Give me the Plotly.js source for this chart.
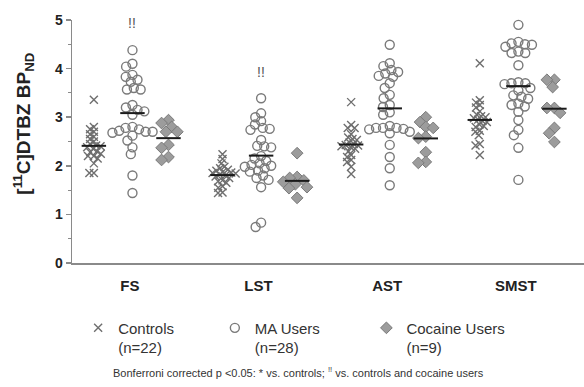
<!DOCTYPE html>
<html>
<head>
<meta charset="utf-8">
<script src="https://cdn.plot.ly/plotly-3.0.1.min.js"></script>
<style>html,body{margin:0;padding:0;background:#fff}#chart{width:584px;height:387px}</style>
</head>
<body>
<div id="chart"></div>
<script>
// ---- data ----
const categories = ['FS', 'LST', 'AST', 'SMST'];
const groupNames = ['Controls<br>(n=22)', 'MA Users<br>(n=28)', 'Cocaine Users<br>(n=9)'];
const yTitle = '[<sup>11</sup>C]DTBZ BP<sub>ND</sub>';

const controlsFS   = [3.36, 2.80, 2.75, 2.70, 2.65, 2.60, 2.55, 2.50, 2.45, 2.42, 2.40, 2.38, 2.35, 2.30, 2.28, 2.25, 2.20, 2.20, 2.15, 2.05, 1.85, 1.85];
const controlsLST  = [2.24, 2.14, 2.05, 1.98, 1.95, 1.92, 1.90, 1.88, 1.86, 1.85, 1.84, 1.82, 1.80, 1.78, 1.75, 1.70, 1.68, 1.65, 1.58, 1.55, 1.45, 1.44];
const controlsAST  = [3.31, 2.84, 2.78, 2.78, 2.65, 2.58, 2.55, 2.53, 2.48, 2.45, 2.43, 2.42, 2.40, 2.38, 2.35, 2.30, 2.22, 2.18, 2.12, 2.08, 1.98, 1.83];
const controlsSMST = [4.11, 3.35, 3.30, 3.25, 3.20, 3.12, 3.05, 3.02, 3.00, 2.98, 2.95, 2.92, 2.90, 2.85, 2.82, 2.80, 2.72, 2.70, 2.63, 2.45, 2.42, 2.22];

const maFS   = [4.38, 4.10, 4.04, 3.87, 3.83, 3.77, 3.73, 3.60, 3.57, 3.57, 3.25, 3.20, 3.15, 3.12, 3.05, 2.80, 2.78, 2.75, 2.72, 2.70, 2.70, 2.68, 2.62, 2.52, 2.38, 2.24, 1.80, 1.44];
const maLST  = [3.39, 3.08, 3.00, 2.92, 2.85, 2.78, 2.76, 2.74, 2.53, 2.41, 2.40, 2.38, 2.20, 2.15, 2.10, 2.05, 2.02, 2.00, 1.98, 1.95, 1.90, 1.88, 1.80, 1.75, 1.71, 1.56, 0.83, 0.74];
const maAST  = [4.49, 4.11, 4.05, 3.97, 3.93, 3.90, 3.85, 3.83, 3.70, 3.60, 3.46, 3.39, 3.25, 3.21, 3.10, 3.05, 2.82, 2.78, 2.76, 2.78, 2.78, 2.75, 2.70, 2.67, 2.43, 2.18, 1.95, 1.60];
const maSMST = [4.90, 4.55, 4.52, 4.50, 4.49, 4.45, 4.35, 4.32, 4.32, 4.07, 3.72, 3.70, 3.70, 3.68, 3.60, 3.55, 3.45, 3.42, 3.38, 3.28, 3.25, 3.22, 3.11, 2.94, 2.74, 2.63, 2.37, 1.71];

const cocaineFS   = [2.94, 2.88, 2.80, 2.70, 2.70, 2.43, 2.37, 2.18, 2.12];
const cocaineLST  = [2.26, 1.77, 1.75, 1.70, 1.67, 1.62, 1.56, 1.54, 1.34];
const cocaineAST  = [3.00, 2.90, 2.80, 2.78, 2.60, 2.57, 2.28, 2.08, 2.06];
const cocaineSMST = [3.77, 3.77, 3.62, 3.19, 3.19, 3.09, 2.78, 2.67, 2.49];

const controls = [controlsFS, controlsLST, controlsAST, controlsSMST];
const maUsers = [maFS, maLST, maAST, maSMST];
const cocaine = [cocaineFS, cocaineLST, cocaineAST, cocaineSMST];
const significantMA = [true, true, true, true];

// ---- geometry helpers ----
const X_RANGE = [-0.45, 3.53];
const Y_RANGE = [0, 5];
const PLOT_W = 512, PLOT_H = 243;
const PXX = PLOT_W / (X_RANGE[1] - X_RANGE[0]);
const PXY = PLOT_H / (Y_RANGE[1] - Y_RANGE[0]);

function swarm(vals, diam) {
  const order = vals.map((v, i) => i).sort((a, b) => vals[b] - vals[a]);
  const placed = [];
  const out = new Array(vals.length).fill(0);
  for (const i of order) {
    const y = vals[i] * PXY;
    const cands = [0];
    for (const p of placed) {
      const dy = Math.abs(p.y - y);
      if (dy < diam) {
        const dx = Math.sqrt(diam * diam - dy * dy);
        cands.push(p.x + dx, p.x - dx);
      }
    }
    cands.sort((a, b) => Math.abs(a) - Math.abs(b) || a - b);
    let chosen = 0;
    for (const c of cands) {
      if (placed.every(p => (p.x - c) ** 2 + (p.y - y) ** 2 >= diam * diam - 1e-6)) { chosen = c; break; }
    }
    placed.push({x: chosen, y});
    out[i] = chosen / PXX;
  }
  return out;
}
const mean = a => a.reduce((s, v) => s + v, 0) / a.length;

const FONT = 'Liberation Sans, Arial, sans-serif';
const groups = [
  {data: controls, offset: -0.28, diam: 4.5,
   marker: {symbol: 'x-thin', size: 8, color: '#6e6e6e', line: {color: '#6e6e6e', width: 1.4}}},
  {data: maUsers, offset: 0.02, diam: 7,
   marker: {symbol: 'circle-open', size: 9, color: '#7a7a7a', line: {width: 1.4}}},
  {data: cocaine, offset: 0.30, diam: 7.5,
   marker: {symbol: 'diamond', size: 9, color: '#9c9c9c', line: {color: '#7a7a7a', width: 1}}}
];
const legendIds = ['legend', 'legend2', 'legend3'];

const traces = [];
groups.forEach((g, gi) => {
  const xs = [], ys = [];
  g.data.forEach((vals, ci) => {
    const offs = swarm(vals, g.diam);
    vals.forEach((v, k) => { xs.push(ci + g.offset + offs[k]); ys.push(v); });
  });
  traces.push({
    type: 'scatter', mode: 'markers', x: xs, y: ys, name: groupNames[gi],
    marker: g.marker, legend: legendIds[gi], cliponaxis: false, hoverinfo: 'y'
  });
});
// mean lines
groups.forEach((g) => {
  g.data.forEach((vals, ci) => {
    const m = mean(vals), c = ci + g.offset;
    traces.push({
      type: 'scatter', mode: 'lines', x: [c - 0.095, c + 0.095], y: [m, m],
      line: {color: '#1a1a1a', width: 2}, showlegend: false, hoverinfo: 'skip'
    });
  });
});

const annotations = [];
maUsers.forEach((vals, ci) => {
  if (significantMA[ci]) {
    annotations.push({
      x: ci + groups[1].offset, y: Math.max(...vals) + 0.55, xref: 'x', yref: 'y',
      text: '!!', showarrow: false, yanchor: 'middle',
      font: {family: FONT, size: 14, color: '#555'}
    });
  }
});
annotations.push({
  xref: 'paper', yref: 'paper', x: 0.443, y: -0.449, xanchor: 'center', yanchor: 'middle',
  showarrow: false,
  text: 'Bonferroni corrected p <0.05: * vs. controls; <sup>!!</sup> vs. controls and cocaine users',
  font: {family: FONT, size: 11, color: '#333'}
});
annotations.push({
  xref: 'paper', yref: 'paper', x: -0.095, y: 0.575, xanchor: 'center', yanchor: 'middle',
  textangle: -90, showarrow: false, text: yTitle,
  font: {family: FONT, size: 19, color: '#222', weight: 'bold'}
});

const legendBase = {
  y: -0.2, yanchor: 'top', xanchor: 'left', orientation: 'v', valign: 'top',
  bgcolor: 'rgba(0,0,0,0)', borderwidth: 0, itemwidth: 30,
  font: {family: FONT, size: 15, color: '#333'}
};

const layout = {
  width: 584, height: 387,
  margin: {l: 72, r: 0, t: 20, b: 124},
  paper_bgcolor: '#fff', plot_bgcolor: '#fff',
  showlegend: true,
  legend: Object.assign({}, legendBase, {x: 0.012}),
  legend2: Object.assign({}, legendBase, {x: 0.279}),
  legend3: Object.assign({}, legendBase, {x: 0.575}),
  xaxis: {
    range: X_RANGE, tickvals: [0, 1, 2, 3], ticktext: categories,
    showline: true, linecolor: '#8a8a8a', linewidth: 1.5, ticks: '',
    showgrid: false, zeroline: false, ticklabelstandoff: 8,
    tickfont: {family: FONT, size: 15, color: '#222', weight: 'bold'}
  },
  yaxis: {
    range: Y_RANGE, tickvals: [0, 1, 2, 3, 4, 5],
    showline: true, linecolor: '#8a8a8a', linewidth: 1.5,
    ticks: 'outside', ticklen: 5, tickwidth: 1.5, tickcolor: '#8a8a8a',
    minor: {tickvals: [0.5, 1.5, 2.5, 3.5, 4.5], ticks: 'outside', ticklen: 3, tickcolor: '#8a8a8a', tickwidth: 1},
    showgrid: false, zeroline: false,
    tickfont: {family: FONT, size: 14, color: '#222', weight: 'bold'}
  },
  annotations: annotations
};

Plotly.newPlot('chart', traces, layout, {displayModeBar: false, staticPlot: true});
</script>
</body>
</html>
